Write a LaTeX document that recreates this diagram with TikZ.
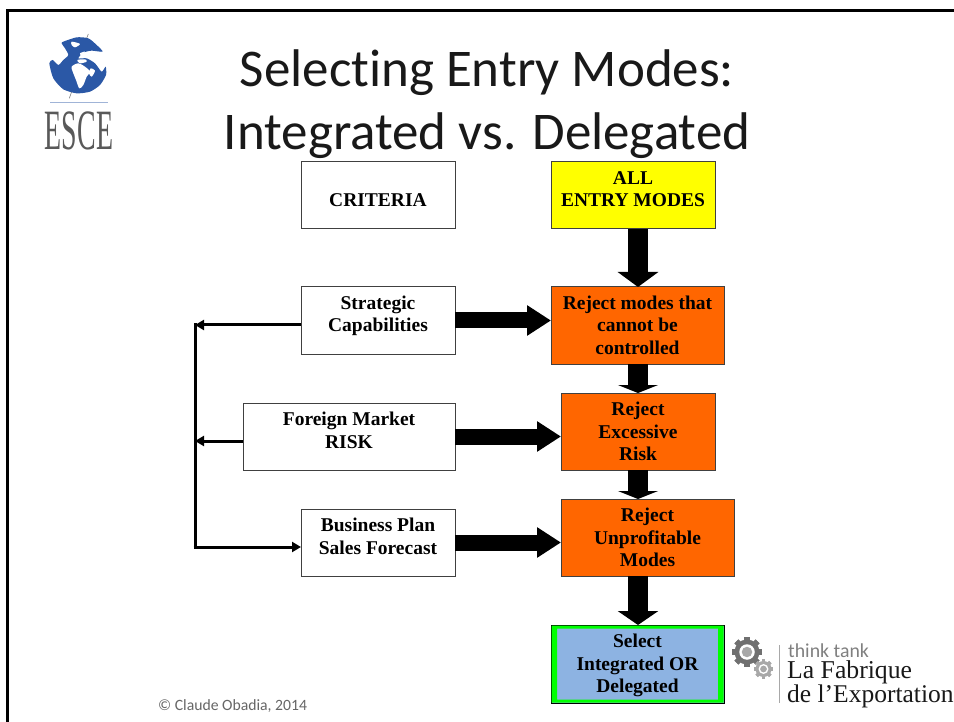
\documentclass[tikz,border=0pt]{standalone}
\usepackage{fontspec}
\setmainfont{Liberation Serif}
\newfontfamily\calibri[Ligatures=NoCommon]{Carlito}
\usetikzlibrary{arrows.meta}
\definecolor{orangeb}{HTML}{FF6600}
\definecolor{yellowb}{HTML}{FFFF00}
\definecolor{blueb}{HTML}{8DB3E2}
\definecolor{greenb}{HTML}{00FF00}
\definecolor{globeblue}{HTML}{2B58A6}
\definecolor{gearcol}{HTML}{707070}
\definecolor{gearlight}{HTML}{A8A8A8}
\newcommand{\mygear}[4]{% x, y, radius, colour
  \foreach \a in {0,45,...,315}{
    \fill[#4,rotate around={\a:(#1,#2)}] (#1-#3*0.22,#2-#3*1.2) rectangle (#1+#3*0.22,#2+#3*1.2);
  }
  \fill[#4] (#1,#2) circle[radius=#3];
  \fill[white] (#1,#2) circle[radius=#3*0.62];
  \fill[gearlight] (#1,#2) circle[radius=#3*0.42];
}
\tikzset{
  x=1pt,y=-1pt,
  boxbase/.style={draw=black!75,line width=1pt,inner sep=0pt,outer sep=0pt,align=center,
    font=\fontsize{19.5}{22.5}\selectfont\bfseries,text=black},
  tb/.style 2 args={text height=#1pt,text depth=#2pt},
  whitebox/.style={boxbase,fill=white},
  yellowbox/.style={boxbase,fill=yellowb},
  orangebox/.style={boxbase,fill=orangeb},
  bluebox/.style={boxbase,fill=blueb,draw=black},
  bigarrow/.style={line width=16pt,black,-{Triangle[length=24pt,width=29pt]}},
  downarrow/.style={line width=20pt,black,-{Triangle[length=#1pt,width=40pt]}},
  thinarrow/.style={line width=3pt,black,-{Triangle[length=9pt,width=10pt]}},
  titletext/.style={anchor=base,inner sep=0pt,text=black!90,font=\calibri\fontsize{53}{60}\selectfont},
}
\begin{document}
\begin{tikzpicture}
\path[fill=white,use as bounding box] (0,0) rectangle (954,722);
% frame
\draw[line width=3pt,line cap=butt] (7,722) -- (7,10.5) -- (954,10.5);

% ESCE logo
\begin{scope}[shift={(40,30)},x=0.3333pt,y=-0.3333pt]
\draw[gray,line width=0.6pt] (145,12) -- (138,30);
\draw[gray,line width=0.6pt] (95,185) -- (88,205);
\fill[globeblue] plot[smooth cycle,tension=0.4] coordinates {(70,35)(110,22)(145,25)(170,45)(188,65)(155,62)(130,68)(115,85)(140,85)(165,100)(185,125)(197,110)(198,135)(180,165)(150,185)(110,190)(70,178)(40,145)(28,100)(38,90)(55,105)(70,90)(85,75)(75,55)(65,40)};
\fill[white] plot[smooth cycle,tension=0.5] coordinates {(95,110)(115,100)(135,110)(150,125)(140,140)(130,165)(118,175)(108,150)(100,130)};
\fill[white] plot[smooth cycle,tension=0.5] coordinates {(112,90)(135,88)(140,95)(120,100)};
\fill[white] plot[smooth cycle,tension=0.5] coordinates {(95,35)(120,42)(105,52)(95,45)};
\fill[white] plot[smooth cycle,tension=0.5] coordinates {(120,70)(135,65)(125,78)};
\fill[white] plot[smooth cycle,tension=0.5] coordinates {(152,115)(165,122)(155,140)(147,130)};
\end{scope}
\draw[globeblue!45,line width=1pt] (50,103) -- (108,103);
\node[anchor=base,inner sep=0pt,text=black!65] (esce) at (79,150)
  {\scalebox{0.49}[1]{\fontsize{57}{60}\selectfont ESCE}};

% title
\node[titletext] (t1) at (487,87) {Selecting Entry Modes:};
\node[titletext] (t2) at (487,150) {Integrated vs. Delegated};

% boxes
\node[whitebox,minimum width=154pt,tb={45}{22}] (crit) at (378,195.5) {CRITERIA};
\node[yellowbox,minimum width=164pt,tb={45}{22}] (all) at (633,195.5) {ALL\\ENTRY MODES};
\node[whitebox,minimum width=154pt,tb={45}{22}] (strat) at (378,320.5) {Strategic\\Capabilities};
\node[orangebox,minimum width=173pt,tb={67.5}{9.5}] (rej1) at (637.5,325.5) {Reject modes that\\cannot be\\controlled};
\node[whitebox,minimum width=212pt,tb={45}{22}] (fore) at (349,436.5) {Foreign Market\\RISK};
\node[orangebox,minimum width=154pt,tb={67.5}{9.5}] (rej2) at (638,431.5) {Reject\\Excessive\\Risk};
\node[whitebox,minimum width=154pt,tb={45}{22}] (bus) at (378,542.5) {Business Plan\\Sales Forecast};
\node[orangebox,minimum width=173pt,tb={67.5}{9.5}] (rej3) at (647.5,537.5) {Reject\\Unprofitable\\Modes};
\node[bluebox,minimum width=173pt,tb={67.5}{10.5}] (sel) at (637.5,664) {Select\\Integrated OR\\Delegated};
\fill[greenb,even odd rule] ([shift={(0.5,0.5)}]sel.north west) rectangle ([shift={(-0.5,-0.5)}]sel.south east)
  ([shift={(6,3.5)}]sel.north west) rectangle ([shift={(-6,-3.5)}]sel.south east);

% big arrows
\coordinate (col) at (638,0);
\draw[downarrow=15] (all.south -| col) -- (rej1.north -| col);
\draw[downarrow=8] (rej1.south -| col) -- (rej2.north -| col);
\draw[downarrow=8] (rej2.south -| col) -- (rej3.north -| col);
\draw[downarrow=14] (rej3.south -| col) -- (sel.north -| col);
\draw[bigarrow] (strat.east) -- (strat.east -| rej1.west);
\draw[bigarrow] (fore.east) -- (fore.east -| rej2.west);
\draw[bigarrow] (bus.east) -- (bus.east -| rej3.west);

% feedback
\coordinate (j1) at (195,325);
\coordinate (j2) at (195,441);
\coordinate (j3) at (195,547);
\draw[line width=3pt,line cap=butt] (195,323.5) -- (j3);
\draw[thinarrow] (strat.west |- j1) -- (j1);
\draw[thinarrow] (fore.west |- j2) -- (j2);
\draw[thinarrow] (193.5,547) -- (bus.west |- j3);

% footer
\node[anchor=base west,inner sep=0pt,text=black!60,font=\calibri\fontsize{15.7}{18}\selectfont] (foot) at (158,710) {© Claude Obadia, 2014};

% Fabrique logo
\mygear{747}{652}{12.5}{gearcol}
\mygear{763.5}{669}{8}{gearlight}
\draw[gearlight,line width=1pt] (779,645) -- (779,703);
\node[anchor=base west,inner sep=0pt,text=black!50,font=\calibri\fontsize{19.8}{20}\selectfont] (tt) at (788,657.5) {think tank};
\node[anchor=base west,inner sep=0pt,text=black!90,font=\fontsize{25.7}{30}\selectfont] (lf) at (787,678) {La Fabrique};
\node[anchor=base west,inner sep=0pt,text=black!90,font=\fontsize{25.5}{30}\selectfont] (de) at (787,702) {de l’Exportation};
\end{tikzpicture}
\end{document}
